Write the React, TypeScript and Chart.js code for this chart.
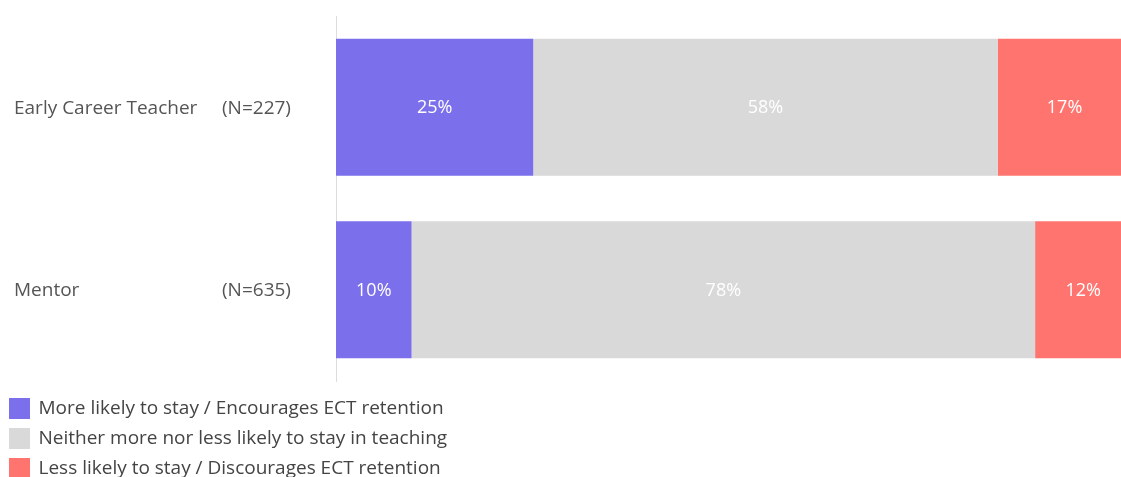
import React, { useEffect, useRef } from "react";
import { Chart, registerables } from "chart.js";

Chart.register(...registerables);

const categories = ["Early Career Teacher", "Mentor"];
const sampleSizes = ["(N=227)", "(N=635)"];
const seriesNames = [
  "More likely to stay / Encourages ECT retention",
  "Neither more nor less likely to stay in teaching",
  "Less likely to stay / Discourages ECT retention",
];
const moreLikely = [24.8, 9.5];
const neither = [58.4, 78.4];
const lessLikely = [16.8, 12.1];
const seriesColors = ["#7B6FEB", "#D9D9D9", "#FF746E"];

const FONT = "'Open Sans', sans-serif";

const categoryLabelPlugin = {
  id: "categoryLabels",
  afterDraw(chart: any) {
    const { ctx } = chart;
    const y = chart.scales.y;
    ctx.save();
    ctx.font = `19px ${FONT}`;
    ctx.fillStyle = "#555555";
    ctx.textBaseline = "middle";
    ctx.textAlign = "left";
    categories.forEach((c, i) => {
      const py = y.getPixelForValue(i) + 1;
      ctx.fillText(c, 14, py);
      ctx.fillText(sampleSizes[i], 222, py);
    });
    ctx.restore();
  },
};

const valueLabelPlugin = {
  id: "valueLabels",
  afterDatasetsDraw(chart: any) {
    const { ctx } = chart;
    ctx.save();
    ctx.font = `18px ${FONT}`;
    ctx.fillStyle = "#FFFFFF";
    ctx.textAlign = "center";
    ctx.textBaseline = "middle";
    chart.data.datasets.forEach((ds: any, di: number) => {
      const meta = chart.getDatasetMeta(di);
      meta.data.forEach((el: any, i: number) => {
        const v = ds.data[i];
        const cx = (el.x + el.base) / 2;
        ctx.fillText(`${Math.round(v)}%`, cx, el.y + 1);
      });
    });
    ctx.restore();
  },
};

const legendPlugin = {
  id: "stackLegend",
  afterDraw(chart: any) {
    const { ctx, chartArea } = chart;
    ctx.save();
    ctx.font = `19px ${FONT}`;
    ctx.textBaseline = "middle";
    ctx.textAlign = "left";
    chart.data.datasets.forEach((ds: any, i: number) => {
      const cy = chartArea.bottom + 27 + i * 30;
      ctx.fillStyle = ds.backgroundColor;
      ctx.fillRect(9, cy - 10, 21, 21);
      ctx.fillStyle = "#444444";
      ctx.fillText(ds.label, 38.5, cy + 1);
    });
    ctx.restore();
  },
};

export default function App() {
  const ref = useRef<HTMLCanvasElement>(null);
  useEffect(() => {
    document.body.style.margin = "0";
    const chart = new Chart(ref.current as HTMLCanvasElement, {
      type: "bar",
      data: {
        labels: categories,
        datasets: [
          { label: seriesNames[0], data: moreLikely, backgroundColor: seriesColors[0] },
          { label: seriesNames[1], data: neither, backgroundColor: seriesColors[1] },
          { label: seriesNames[2], data: lessLikely, backgroundColor: seriesColors[2] },
        ],
      },
      options: {
        indexAxis: "y",
        animation: false,
        responsive: false,
        layout: { padding: { left: 336, right: 0, top: 16, bottom: 96 } },
        datasets: { bar: { categoryPercentage: 0.75, barPercentage: 1, borderWidth: 0 } },
        scales: {
          x: { stacked: true, min: 0, max: 98.7, display: false },
          y: {
            stacked: true,
            ticks: { display: false },
            grid: { display: false, drawTicks: false },
            border: { display: true, color: "#DDDDDD", width: 1, dash: [3, 2] },
          },
        },
        plugins: {
          legend: { display: false },
          tooltip: { enabled: false },
        },
      } as any,
      plugins: [categoryLabelPlugin, valueLabelPlugin, legendPlugin],
    });
    return () => chart.destroy();
  }, []);
  return <canvas ref={ref} width={1121} height={477} style={{ display: "block" }} />;
}
